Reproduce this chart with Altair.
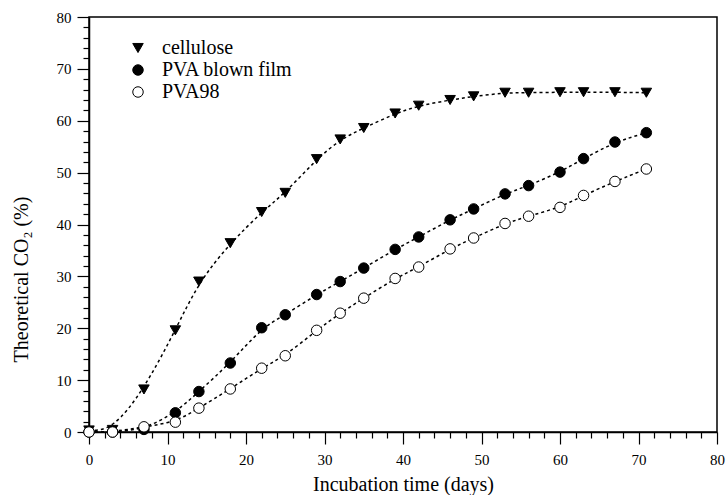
import altair as alt
import pandas as pd

days = [0, 3, 7, 11, 14, 18, 22, 25, 29, 32, 35, 39, 42, 46, 49, 53, 56, 60, 63, 67, 71]
cellulose = [0.3, 0.4, 8.2, 19.6, 29.0, 36.4, 42.4, 46.1, 52.6, 56.4, 58.6, 61.4,
             62.9, 64.0, 64.7, 65.4, 65.4, 65.5, 65.5, 65.5, 65.4]
pva_blown = [0.0, 0.0, 0.5, 3.7, 7.8, 13.3, 20.1, 22.6, 26.5, 29.0, 31.6, 35.2,
             37.6, 40.9, 43.0, 45.9, 47.5, 50.1, 52.7, 55.9, 57.7]
pva98 = [0.0, 0.0, 1.0, 1.9, 4.6, 8.3, 12.3, 14.7, 19.6, 22.9, 25.8, 29.6,
         31.8, 35.3, 37.4, 40.2, 41.6, 43.3, 45.6, 48.3, 50.7]

series_names = ["cellulose", "PVA blown film", "PVA98"]
series_values = [cellulose, pva_blown, pva98]
tick_values = list(range(0, 81, 2))

rows = []
for name, vals in zip(series_names, series_values):
    for d, v in zip(days, vals):
        rows.append({"day": d, "value": v, "series": name})
df = pd.DataFrame(rows)

FONT = "Liberation Serif"
major_size = {"condition": {"test": "datum.value % 10 === 0", "value": 12}, "value": 6}
label_expr = "datum.value % 10 === 0 ? datum.label : ''"

x_enc = alt.X(
    "day:Q",
    scale=alt.Scale(domain=[0, 80], nice=False),
    axis=alt.Axis(
        title="Incubation time (days)", values=tick_values, labelExpr=label_expr,
        tickSize=major_size, labelOverlap=False, labelFlush=False, grid=False,
        labelPadding=8, titleY=58, titleBaseline="alphabetic",
    ),
)
y_enc = alt.Y(
    "value:Q",
    scale=alt.Scale(domain=[0, 80], nice=False),
    axis=alt.Axis(
        title="Theoretical CO₂ (%)", values=tick_values, labelExpr=label_expr,
        tickSize=major_size, labelOverlap=False, labelFlush=False, grid=False,
        labelPadding=6, titleX=-62, titleY=262, titleAngle=270,
        titleAlign="center", titleBaseline="alphabetic",
    ),
)

legend = alt.Legend(
    title=None, orient="none", legendX=39, legendY=21, padding=0,
    labelFont=FONT, labelFontSize=20, labelColor="black", labelOffset=14,
    symbolSize=110, symbolStrokeColor="black", symbolStrokeWidth=1,
    rowPadding=2,
)

lines = alt.Chart(df).mark_line(
    color="black", strokeDash=[3, 3], strokeWidth=1.5, interpolate="basis"
).encode(x=x_enc, y=y_enc, detail="series:N")

points = alt.Chart(df).mark_point(
    filled=False, strokeWidth=1, size=110, opacity=1
).encode(
    x=x_enc, y=y_enc,
    shape=alt.Shape("series:N", scale=alt.Scale(domain=series_names,
                    range=["triangle-down", "circle", "circle"]), legend=legend),
    fill=alt.Fill("series:N", scale=alt.Scale(domain=series_names,
                  range=["black", "black", "white"]), legend=legend),
    stroke=alt.Stroke("series:N", scale=alt.Scale(domain=series_names,
                      range=["black", "black", "black"]), legend=legend),
)

chart = alt.layer(lines, points).properties(
    width=628, height=415,
    background="white",
    autosize=alt.AutoSizeParams(type="none"),
    padding={"left": 89, "top": 17, "right": 9, "bottom": 63},
).configure(
    font=FONT
).configure_view(
    stroke="black", strokeWidth=1.5
).configure_axis(
    labelFont=FONT, labelFontSize=15, labelColor="black",
    titleFont=FONT, titleFontSize=20, titleFontWeight="normal", titleColor="black",
    domainColor="black", domainWidth=1.5, tickColor="black", tickWidth=1.2,
).configure_legend(
    labelFont=FONT, labelFontSize=20, labelColor="black",
)

chart.save("out.html", embed_options={"renderer": "svg", "actions": False})
